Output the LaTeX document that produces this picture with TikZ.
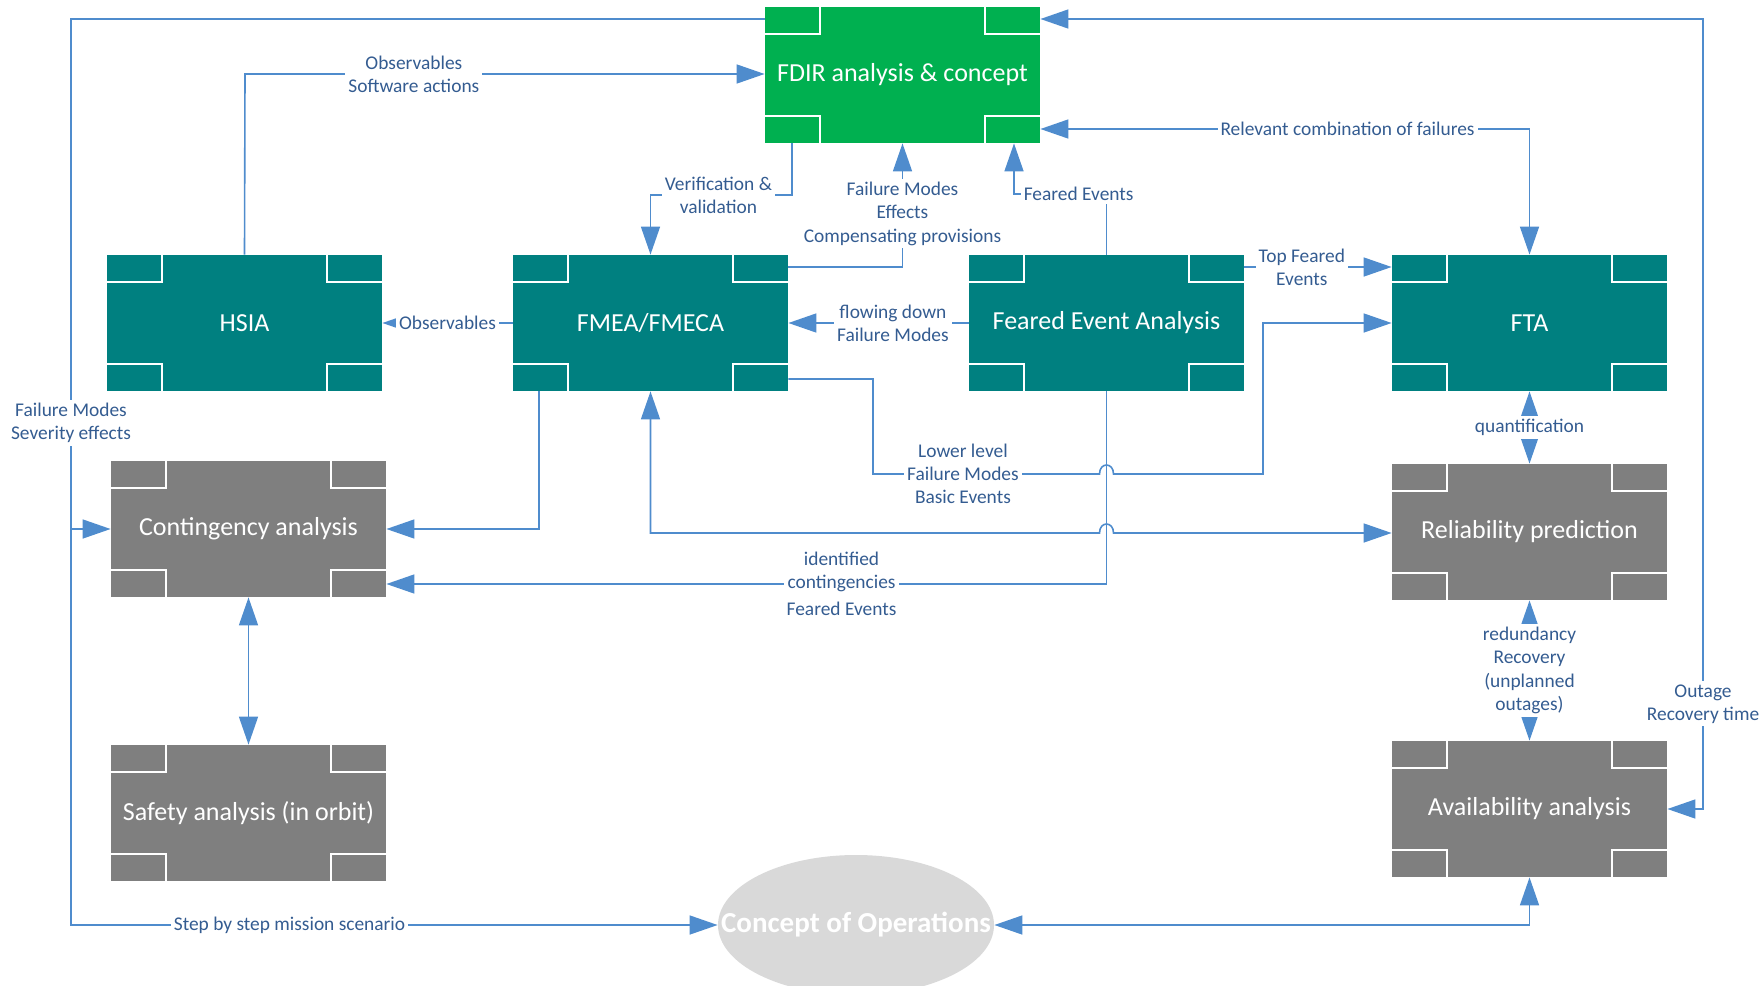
\documentclass[tikz,border=0pt]{standalone}
\usepackage{fontspec}
\setmainfont{Carlito}
\usetikzlibrary{arrows.meta, shapes.geometric, calc}

\definecolor{fdirgreen}{RGB}{0,176,80}
\definecolor{boxteal}{RGB}{0,128,128}
\definecolor{boxgray}{RGB}{127,127,127}
\definecolor{opsgray}{RGB}{217,217,217}
\definecolor{linkblue}{RGB}{79,140,205}
\definecolor{labelblue}{RGB}{52,92,145}

\begin{document}
\begin{tikzpicture}[x=0.5pt, y=-0.5pt,
    stage/.style={rectangle, minimum width=137.5pt, minimum height=68pt, inner sep=0pt,
      text=white, font=\fontsize{13}{15}\selectfont,
      path picture={
        \draw[white, line width=0.9pt]
          ([xshift=27.5pt]path picture bounding box.north west) |- ([yshift=-13.5pt]path picture bounding box.north west)
          ([xshift=-27.5pt]path picture bounding box.north east) |- ([yshift=-13.5pt]path picture bounding box.north east)
          ([xshift=27.5pt]path picture bounding box.south west) |- ([yshift=13.5pt]path picture bounding box.south west)
          ([xshift=-27.5pt]path picture bounding box.south east) |- ([yshift=13.5pt]path picture bounding box.south east);
      }},
    link/.style={draw=linkblue, line width=0.8pt, -{Triangle[length=14pt, width=9.5pt]}},
    both/.style={link, {Triangle[length=14pt, width=9.5pt]}-{Triangle[length=14pt, width=9.5pt]}},
    lbl/.style={fill=white, inner sep=1.5pt, text=labelblue, align=center,
      font=\fontsize{9.7}{11.6}\selectfont}]

    \useasboundingbox (0,0) rectangle (1760,985);

    % boxes
    \node[stage, fill=fdirgreen] (fdir) at (902.5,75) {FDIR analysis \& concept};
    \node[stage, fill=boxteal] (hsia) at (244.5,323) {HSIA};
    \node[stage, fill=boxteal] (fmea) at (650.5,323) {FMEA/FMECA};
    \node[stage, fill=boxteal] (fea) at (1106.5,323) {Feared Event Analysis};
    \node[stage, fill=boxteal] (fta) at (1529.5,323) {FTA};
    \node[stage, fill=boxgray] (cont) at (248.5,529) {Contingency analysis};
    \node[stage, fill=boxgray] (safety) at (248.5,813) {Safety analysis (in orbit)};
    \node[stage, fill=boxgray] (rel) at (1529.5,532) {Reliability prediction};
    \node[stage, fill=boxgray] (avail) at (1529.5,809) {Availability analysis};
    \node[ellipse, fill=opsgray, minimum width=138pt, minimum height=70pt, inner sep=0pt] (conops) at (856,925) {};
    \node[text=white, font=\bfseries\fontsize{14.5}{16}\selectfont] (opstext) at (conops) {Concept of Operations};

    % bends
    \coordinate (tl) at (71,19);
    \coordinate (bl) at (71,925);
    \coordinate (tr) at (1703,19);
    \coordinate (obs) at (245,74);
    \coordinate (vv) at (792,195);
    \coordinate (fm) at (902.5,267);
    \coordinate (fe) at (1014,194);
    \coordinate (rc) at (1529.5,129);
    \coordinate (tf) at (1250,267);
    \coordinate (ll) at (873,379);
    \coordinate (lb) at (1263,474);
    \coordinate (fr) at (650.5,533);
    \coordinate (fc) at (539,529);
    \coordinate (ic) at (1106.5,584);
    \coordinate (ca) at (1529.5,925);
    \coordinate (hop1) at (fea.south |- lb);
    \coordinate (hop2) at (fea.south |- fr);

    % outer loops
    \draw[link] (tl -| fdir.west) -- (tl) -- node[lbl, pos=0.446] {Failure Modes\\Severity effects} (bl)
        -- node[lbl, pos=0.338] {Step by step mission scenario} (conops.west);
    \draw[link] (cont.west -| tl) -- (cont.west);
    \draw[both] (tr -| fdir.east) -- (tr) -- node[lbl, pos=0.867] {Outage\\Recovery time} (tr |- avail.east) -- (avail.east);

    % into FDIR
    \draw[link] (hsia.north) -- (obs) -- node[lbl, pos=0.325] {Observables\\Software actions} (obs -| fdir.west);
    \draw[link] (vv |- fdir.south) -- (vv) -- node[lbl, pos=0.52] {Verification \&\\validation} (vv -| fmea.north) -- (fmea.north);
    \draw[link] (fm -| fmea.east) -- (fm) -- node[lbl, pos=0.43] {Failure Modes\\Effects\\Compensating provisions} (fdir.south);
    \draw[link] (fea.north) -- (fea.north |- fe) -- node[lbl, anchor=west, pos=0.935] {Feared Events} (fe) -- (fe |- fdir.south);
    \draw[both] (rc -| fdir.east) -- node[lbl, pos=0.628] {Relevant combination of failures} (rc) -- (fta.north);

    % middle row
    \draw[link] (fmea.west) -- node[lbl] {Observables} (hsia.east);
    \draw[link] (fea.west) -- node[lbl, pos=0.42] {flowing down\\Failure Modes} (fmea.east);
    \draw[link] (tf -| fea.east) -- node[lbl, pos=0.39] {Top Feared\\Events} (tf -| fta.west);

    % crossing lines
    \draw[link] (ll -| fmea.east) -- (ll) -- (ll |- lb)
        -- node[lbl, pos=0.397] {Lower level\\Failure Modes\\Basic Events} ($(hop1)+(-7,0)$)
        .. controls ($(hop1)+(-7,-12)$) and ($(hop1)+(7,-12)$) .. ($(hop1)+(7,0)$)
        -- (lb) -- (lb |- fta.west) -- (fta.west);
    \draw[both] (fmea.south) -- (fr) -- ($(hop2)+(-7,0)$)
        .. controls ($(hop2)+(-7,-12)$) and ($(hop2)+(7,-12)$) .. ($(hop2)+(7,0)$) -- (fr -| rel.west);
    \draw[link] (fc |- fmea.south) -- (fc) -- (cont.east);
    \draw[link] (fea.south) -- (ic) -- node[lbl, pos=0.368] {identified\\contingencies\\[2pt]Feared Events} (ic -| cont.east);

    % vertical pairs
    \draw[both] (fta.south) -- node[lbl] {quantification} (rel.north);
    \draw[both] (rel.south) -- node[lbl] {redundancy\\Recovery\\(unplanned\\outages)} (avail.north);
    \draw[both] (cont.south) -- (safety.north);
    \draw[both] (conops.east) -- (ca) -- (avail.south);
\end{tikzpicture}
\end{document}
